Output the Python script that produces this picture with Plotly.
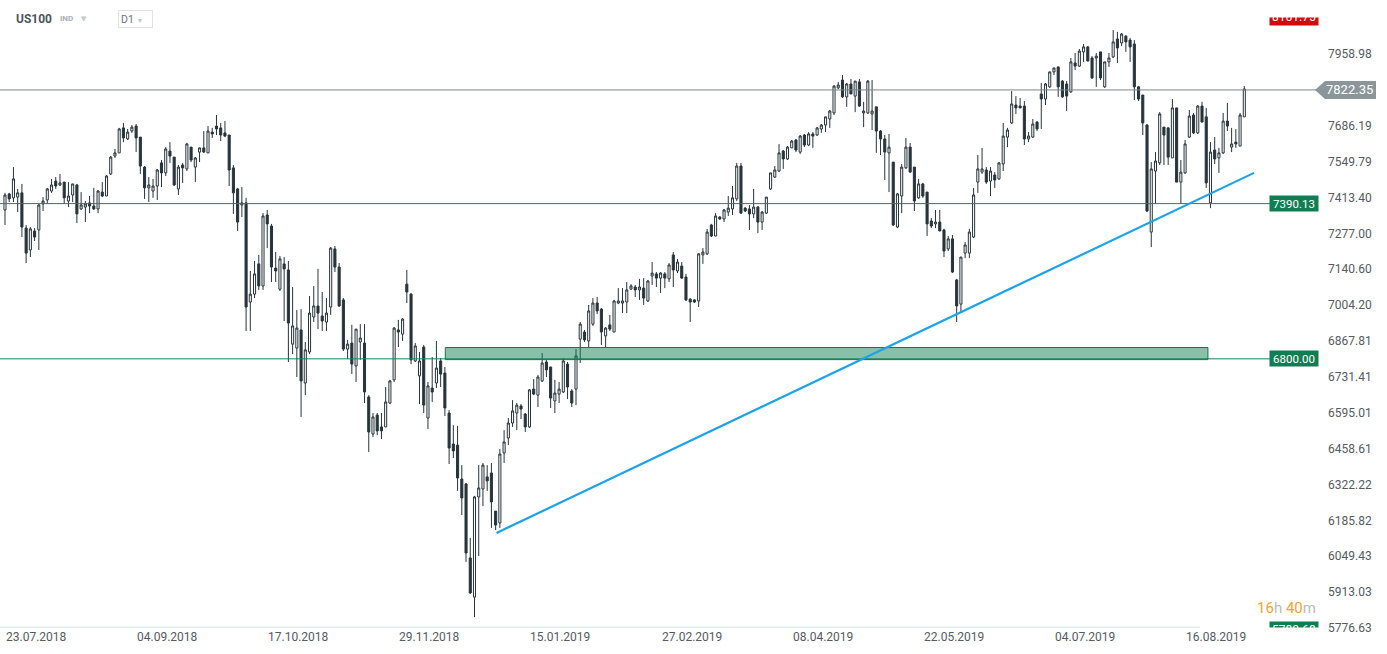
import plotly.graph_objects as go

# ---------------- data ----------------
date_labels = ["23.07.2018", "04.09.2018", "17.10.2018", "29.11.2018", "15.01.2019",
               "27.02.2019", "08.04.2019", "22.05.2019", "04.07.2019", "16.08.2019"]
date_label_bar = [0, 31, 62, 93, 124, 155, 186, 217, 248, 279]

opens = [
    7366, 7427, 7412, 7415, 7431, 7297, 7214, 7286, 7290, 7389,
    7404, 7438, 7476, 7461, 7472, 7400, 7423, 7461, 7370, 7377,
    7393, 7381, 7370, 7434, 7419, 7503, 7571, 7583, 7678, 7636,
    7666, 7685, 7643, 7529, 7450, 7438, 7457, 7545, 7507, 7590,
    7567, 7446, 7537, 7522, 7605, 7529, 7586, 7602, 7583, 7662,
    7685, 7678, 7659, 7651, 7526, 7446, 7385, 7393, 7016, 7046,
    7161, 7077, 7347, 7305, 7145, 7065, 7161, 7138, 6856, 6841,
    6910, 6708, 6826, 6959, 7001, 6963, 6940, 6997, 7218, 7149,
    7024, 6837, 6860, 6773, 6864, 6860, 6655, 6514, 6586, 6541,
    6541, 6632, 6720, 6910, 6894, 7084, 7046, 6792, 6735, 6845,
    6575, 6689, 6708, 6792, 6746, 6594, 6476, 6472, 6343, 6324,
    6043, 5894, 6275, 6305, 6351, 6366, 6221, 6176, 6442, 6499,
    6556, 6594, 6621, 6590, 6541, 6685, 6662, 6716, 6788, 6769,
    6640, 6666, 6674, 6780, 6678, 6685, 6875, 6902, 6868, 6932,
    7012, 6989, 6887, 6929, 6902, 7012, 7012, 7016, 7065, 7073,
    7062, 7069, 7020, 7115, 7123, 7107, 7123, 7104, 7195, 7134,
    7153, 7111, 7027, 7024, 7020, 7195, 7199, 7309, 7267, 7339,
    7332, 7358, 7370, 7408, 7533, 7373, 7370, 7351, 7377, 7320,
    7354, 7446, 7491, 7514, 7590, 7560, 7602, 7632, 7586, 7651,
    7613, 7655, 7651, 7674, 7689, 7712, 7735, 7830, 7860, 7796,
    7845, 7799, 7853, 7735, 7735, 7731, 7758, 7666, 7636, 7583,
    7548, 7301, 7419, 7526, 7605, 7529, 7412, 7465, 7434, 7324,
    7313, 7320, 7290, 7218, 7256, 7100, 7008, 7202, 7202, 7263,
    7472, 7510, 7518, 7476, 7499, 7484, 7541, 7643, 7697, 7765,
    7761, 7761, 7636, 7643, 7700, 7807, 7788, 7834, 7891, 7910,
    7856, 7845, 7815, 7925, 7913, 7967, 7986, 7944, 7944, 7967,
    7834, 7929, 7948, 8016, 8001, 8027, 8012, 7997, 7834, 7803,
    7689, 7282, 7514, 7545, 7681, 7678, 7564, 7754, 7472, 7507,
    7643, 7727, 7659, 7761, 7720, 7393, 7594, 7564, 7583, 7704,
    7605, 7624, 7609, 7720,
]
highs = [
    7431, 7431, 7529, 7446, 7465, 7309, 7301, 7297, 7389, 7415,
    7450, 7484, 7491, 7503, 7472, 7472, 7465, 7465, 7434, 7400,
    7419, 7450, 7442, 7472, 7499, 7571, 7598, 7678, 7697, 7674,
    7689, 7693, 7643, 7533, 7491, 7484, 7522, 7556, 7605, 7624,
    7567, 7537, 7545, 7621, 7605, 7567, 7602, 7666, 7685, 7678,
    7727, 7697, 7704, 7651, 7537, 7450, 7453, 7412, 7134, 7172,
    7195, 7354, 7366, 7313, 7206, 7191, 7187, 7172, 7073, 6986,
    6989, 6864, 7039, 7077, 7142, 7054, 7031, 7225, 7229, 7164,
    7031, 6872, 6929, 6913, 6932, 6932, 6662, 6594, 6594, 6594,
    6693, 6720, 6921, 6948, 6955, 7138, 7050, 6860, 6826, 6853,
    6712, 6807, 6868, 6803, 6769, 6605, 6548, 6545, 6396, 6328,
    6119, 6279, 6396, 6404, 6396, 6404, 6221, 6457, 6529, 6575,
    6643, 6632, 6628, 6594, 6685, 6723, 6739, 6822, 6796, 6769,
    6720, 6712, 6803, 6788, 6685, 6837, 6940, 6910, 7005, 7031,
    7035, 6993, 6921, 6967, 7024, 7069, 7069, 7092, 7084, 7081,
    7104, 7107, 7100, 7168, 7130, 7130, 7130, 7164, 7206, 7180,
    7168, 7123, 7031, 7027, 7202, 7221, 7294, 7313, 7354, 7343,
    7370, 7419, 7457, 7545, 7545, 7377, 7385, 7446, 7381, 7362,
    7415, 7507, 7533, 7617, 7594, 7609, 7632, 7636, 7651, 7655,
    7662, 7662, 7681, 7693, 7720, 7746, 7841, 7853, 7879, 7849,
    7864, 7856, 7864, 7777, 7860, 7860, 7758, 7670, 7651, 7655,
    7548, 7431, 7541, 7640, 7621, 7529, 7484, 7469, 7434, 7335,
    7366, 7366, 7294, 7267, 7271, 7104, 7187, 7244, 7294, 7450,
    7575, 7602, 7529, 7529, 7510, 7548, 7697, 7678, 7818, 7799,
    7792, 7780, 7662, 7712, 7704, 7849, 7849, 7891, 7906, 7910,
    7860, 7856, 7944, 7963, 7978, 7997, 7989, 7951, 7963, 7967,
    7929, 7963, 8050, 8043, 8039, 8031, 8020, 8012, 7837, 7803,
    7693, 7548, 7586, 7738, 7681, 7681, 7788, 7754, 7556, 7632,
    7746, 7735, 7765, 7777, 7754, 7624, 7643, 7602, 7735, 7773,
    7678, 7674, 7735, 7837,
]
lows = [
    7309, 7396, 7396, 7358, 7263, 7164, 7187, 7248, 7214, 7362,
    7389, 7431, 7446, 7457, 7389, 7377, 7396, 7316, 7366, 7320,
    7354, 7366, 7354, 7415, 7419, 7499, 7564, 7583, 7624, 7632,
    7659, 7586, 7503, 7408, 7396, 7412, 7404, 7453, 7495, 7545,
    7457, 7423, 7469, 7514, 7548, 7472, 7548, 7583, 7583, 7640,
    7651, 7628, 7643, 7457, 7351, 7286, 7339, 6906, 6906, 7031,
    7062, 7062, 7221, 7092, 7092, 7058, 6944, 6788, 6818, 6731,
    6579, 6662, 6818, 6940, 6913, 6906, 6906, 6967, 7130, 6997,
    6830, 6799, 6742, 6712, 6796, 6632, 6446, 6503, 6510, 6495,
    6541, 6628, 6712, 6845, 6868, 7012, 6780, 6788, 6628, 6594,
    6533, 6636, 6689, 6693, 6583, 6400, 6423, 6298, 6206, 6028,
    5906, 5818, 6050, 6240, 6298, 6157, 6149, 6157, 6404, 6472,
    6541, 6529, 6571, 6522, 6537, 6662, 6617, 6712, 6731, 6613,
    6594, 6632, 6670, 6647, 6617, 6624, 6784, 6864, 6841, 6925,
    6970, 6853, 6845, 6906, 6902, 7008, 6974, 6974, 7062, 7035,
    7024, 7005, 7016, 7081, 7073, 7050, 7069, 7092, 7073, 7126,
    7104, 7020, 6940, 7012, 6997, 7161, 7195, 7263, 7267, 7328,
    7320, 7343, 7347, 7400, 7351, 7358, 7290, 7335, 7278, 7290,
    7351, 7442, 7488, 7510, 7522, 7556, 7602, 7586, 7579, 7605,
    7609, 7602, 7647, 7659, 7662, 7678, 7727, 7826, 7792, 7758,
    7807, 7738, 7758, 7681, 7731, 7670, 7583, 7575, 7480, 7434,
    7305, 7297, 7354, 7522, 7507, 7362, 7408, 7412, 7267, 7297,
    7297, 7286, 7187, 7210, 7126, 6940, 6978, 7183, 7183, 7259,
    7431, 7503, 7465, 7419, 7450, 7480, 7514, 7605, 7693, 7731,
    7754, 7613, 7624, 7640, 7666, 7674, 7765, 7830, 7879, 7796,
    7792, 7742, 7811, 7898, 7910, 7929, 7932, 7864, 7834, 7860,
    7830, 7910, 7944, 7925, 7989, 7967, 7929, 7784, 7780, 7651,
    7358, 7225, 7389, 7537, 7537, 7537, 7564, 7472, 7389, 7503,
    7640, 7655, 7655, 7700, 7450, 7373, 7541, 7507, 7579, 7666,
    7586, 7602, 7609, 7720,
]
closes = [
    7423, 7408, 7484, 7431, 7301, 7202, 7294, 7263, 7385, 7400,
    7446, 7461, 7457, 7469, 7412, 7419, 7465, 7351, 7385, 7389,
    7381, 7370, 7438, 7419, 7495, 7567, 7583, 7674, 7640, 7662,
    7681, 7640, 7533, 7450, 7461, 7457, 7518, 7507, 7598, 7571,
    7461, 7529, 7526, 7617, 7556, 7564, 7602, 7586, 7666, 7655,
    7674, 7651, 7647, 7518, 7431, 7320, 7393, 6997, 7046, 7123,
    7077, 7343, 7313, 7149, 7134, 7180, 7142, 6936, 6925, 6917,
    6716, 6834, 6974, 7001, 6974, 6944, 6974, 7221, 7149, 7001,
    6837, 6856, 6780, 6913, 6879, 6674, 6522, 6579, 6526, 6526,
    6636, 6716, 6917, 6902, 6951, 7054, 6796, 6849, 6792, 6624,
    6697, 6674, 6765, 6742, 6613, 6461, 6450, 6347, 6271, 6062,
    5910, 6275, 6309, 6396, 6336, 6256, 6168, 6438, 6484, 6556,
    6602, 6624, 6609, 6541, 6682, 6666, 6731, 6784, 6758, 6651,
    6670, 6685, 6792, 6693, 6632, 6811, 6932, 6872, 6982, 7012,
    6982, 6902, 6917, 6913, 7020, 7020, 7020, 7062, 7077, 7062,
    7073, 7031, 7096, 7126, 7107, 7126, 7107, 7157, 7138, 7168,
    7107, 7024, 7016, 7016, 7199, 7206, 7282, 7267, 7343, 7332,
    7366, 7373, 7412, 7533, 7354, 7362, 7351, 7377, 7320, 7358,
    7415, 7507, 7518, 7583, 7560, 7605, 7628, 7594, 7647, 7613,
    7655, 7647, 7678, 7689, 7720, 7742, 7837, 7841, 7796, 7845,
    7807, 7856, 7761, 7742, 7856, 7742, 7666, 7636, 7586, 7605,
    7309, 7427, 7529, 7605, 7510, 7400, 7465, 7419, 7313, 7305,
    7320, 7286, 7210, 7256, 7130, 7001, 7187, 7233, 7282, 7423,
    7522, 7522, 7472, 7514, 7480, 7545, 7647, 7670, 7769, 7754,
    7754, 7636, 7647, 7693, 7674, 7788, 7845, 7891, 7906, 7834,
    7796, 7799, 7929, 7913, 7970, 7986, 7932, 7868, 7951, 7868,
    7929, 7944, 8005, 7982, 8035, 8005, 7986, 7834, 7788, 7697,
    7362, 7522, 7552, 7731, 7651, 7567, 7754, 7472, 7510, 7617,
    7723, 7659, 7761, 7700, 7469, 7586, 7560, 7583, 7704, 7685,
    7617, 7617, 7727, 7826,
]

price_ticks = [5776.63, 5913.03, 6049.43, 6185.82, 6322.22, 6458.61, 6595.01, 6731.41,
               6867.81, 7004.20, 7140.60, 7277.00, 7413.40, 7549.79, 7686.19, 7958.98]
y_min, y_max = 5772.8, 8164.3

last_price = 7822.35
level_1 = 7390.13
level_2 = 6800.00
zone_bars = [104.1, 284.4]
zone_prices = [6797, 6843]
trend_bars = [116.2, 295.3]
trend_prices = [6138, 7507]
top_label = "8161.75"
bottom_label = "5780.68"

# --------------- sanitise ----------------
highs = [max(h, o, c) for h, o, c in zip(highs, opens, closes)]
lows = [min(l, o, c) for l, o, c in zip(lows, opens, closes)]
bars = list(range(len(opens)))

DARK = "#27343b"
GREEN = "#0f7f53"
FONT = "Roboto"

W, H = 1387, 654
ML, MR, MT, MB = 0, 68, 0, 25
PW, PH = W - ML - MR, H - MT - MB


def px(xp):
    return (xp - ML) / PW


def py(yp):
    return 1 - (yp - MT) / PH


fig = go.Figure()
fig.add_trace(go.Candlestick(
    x=bars, open=opens, high=highs, low=lows, close=closes,
    increasing=dict(line=dict(color=DARK, width=1), fillcolor="#ffffff"),
    decreasing=dict(line=dict(color=DARK, width=1), fillcolor=DARK),
    whiskerwidth=0, showlegend=False, hoverinfo="skip",
))

shapes = []
# horizontal levels
shapes.append(dict(type="line", xref="paper", yref="y", x0=0, x1=px(1316), y0=last_price, y1=last_price,
                   line=dict(color="#7a878c", width=1)))
for lv in (level_1, level_2):
    shapes.append(dict(type="line", xref="paper", yref="y", x0=0, x1=px(1271), y0=lv, y1=lv,
                       line=dict(color="#13875c", width=1)))
# zone
shapes.append(dict(type="rect", xref="x", yref="y", x0=zone_bars[0], x1=zone_bars[1],
                   y0=zone_prices[0], y1=zone_prices[1], layer="above",
                   fillcolor="rgba(20,130,85,0.5)", line=dict(color="#0d7a4d", width=1)))
# trend line
shapes.append(dict(type="line", xref="x", yref="y", x0=trend_bars[0], x1=trend_bars[1],
                   y0=trend_prices[0], y1=trend_prices[1], line=dict(color="#1ca3ea", width=2.2)))
# bottom faint line
shapes.append(dict(type="line", xref="paper", yref="paper", x0=0, x1=px(1200), y0=py(627.5), y1=py(627.5),
                   line=dict(color="#b9e0d2", width=1.5)))
# current price tag (arrow)
shapes.append(dict(type="path", xref="paper", yref="paper",
                   path=f"M {px(1315)} {py(90)} L {px(1325)} {py(81)} L {px(1376)} {py(81)} "
                        f"L {px(1376)} {py(99)} L {px(1325)} {py(99)} Z",
                   fillcolor="#8b969b", line=dict(width=0)))

annotations = []
# level labels
for lv in (level_1, level_2):
    annotations.append(dict(x=1.0, xref="paper", xanchor="right", y=lv, yref="y", yanchor="middle",
                            text=f"{lv:.2f}", showarrow=False, bgcolor=GREEN, width=46, height=13,
                            borderpad=1, font=dict(family=FONT, size=11.5, color="white")))
annotations.append(dict(x=px(1350), xref="paper", xanchor="center", y=py(90), yref="paper", yanchor="middle",
                        text=f"{last_price:.2f}", showarrow=False,
                        font=dict(family=FONT, size=13, color="white")))
# top red label (partly hidden by header)
annotations.append(dict(x=1.0, xref="paper", xanchor="right", y=py(16.5), yref="paper", yanchor="middle",
                        text=top_label, showarrow=False, bgcolor="#d30a0a", width=46, height=15,
                        borderpad=1, font=dict(family=FONT, size=12, color="white")))
# bottom green label (partly hidden by axis band)
annotations.append(dict(x=1.0, xref="paper", xanchor="right", y=py(629.5), yref="paper", yanchor="middle",
                        text=bottom_label, showarrow=False, bgcolor=GREEN, width=46, height=13,
                        borderpad=1, font=dict(family=FONT, size=12, color="white")))
# covers
annotations.append(dict(x=px(660), xref="paper", xanchor="center", y=py(8.5), yref="paper", yanchor="middle",
                        text="\u00a0", showarrow=False, bgcolor="#ffffff", width=1320, height=17, borderpad=0))
annotations.append(dict(x=px(660), xref="paper", xanchor="center", y=py(641), yref="paper", yanchor="middle",
                        text="\u00a0", showarrow=False, bgcolor="#ffffff", width=1320, height=26, borderpad=0))
# date labels
for b, t in zip(date_label_bar, date_labels):
    annotations.append(dict(x=b, xref="x", xanchor="left", xshift=-1, y=py(637), yref="paper", yanchor="middle",
                            text=t, showarrow=False, font=dict(family=FONT, size=12, color="#555b5f")))
# countdown
annotations.append(dict(x=px(1318), xref="paper", xanchor="right", y=py(608), yref="paper", yanchor="middle",
                        text="<span style='color:#f5a42a'>16</span><span style='color:#b9bcbe'>h</span> "
                             "<span style='color:#f5a42a'>40</span><span style='color:#b9bcbe'>m</span>",
                        showarrow=False, font=dict(family=FONT, size=15)))
# header
annotations.append(dict(x=px(14), xref="paper", xanchor="left", y=py(18.5), yref="paper", yanchor="middle",
                        text="<b>US100</b>", showarrow=False, font=dict(family=FONT, size=12, color="#4b565d")))
annotations.append(dict(x=px(58), xref="paper", xanchor="left", y=py(18.5), yref="paper", yanchor="middle",
                        text="<b>IND</b>", showarrow=False, font=dict(family=FONT, size=8, color="#a7aeb2")))
annotations.append(dict(x=px(79), xref="paper", xanchor="left", y=py(19), yref="paper", yanchor="middle",
                        text="▼", showarrow=False, font=dict(family="DejaVu Sans", size=7, color="#c4c8cb")))
annotations.append(dict(x=px(118), xref="paper", xanchor="left", y=py(18.5), yref="paper", yanchor="middle",
                        text="D1 <span style='color:#c4c8cb;font-size:7px'>▼</span>", showarrow=False,
                        bordercolor="#dfe3e5", borderwidth=1, borderpad=2, width=29, height=12, align="left",
                        font=dict(family=FONT, size=10.5, color="#6c757a")))

fig.update_layout(
    width=W, height=H, margin=dict(l=ML, r=MR, t=MT, b=MB, pad=0),
    paper_bgcolor="white", plot_bgcolor="white",
    shapes=shapes, annotations=annotations,
    xaxis=dict(range=[-1.18, 310.66], showgrid=False, zeroline=False, showticklabels=False,
               showline=False, ticks="", rangeslider=dict(visible=False), fixedrange=True),
    yaxis=dict(side="right", range=[y_min, y_max], showgrid=False, zeroline=False, showline=False,
               tickvals=price_ticks, ticktext=[f"{v:.2f}" for v in price_ticks], ticks="",
               ticklabelstandoff=8, tickfont=dict(family=FONT, size=12, color="#555b5f"), fixedrange=True),
    showlegend=False,
)

fig.write_html("out.html", config={"displayModeBar": False},
               post_script="document.body.style.margin='0';document.body.style.overflow='hidden';")
